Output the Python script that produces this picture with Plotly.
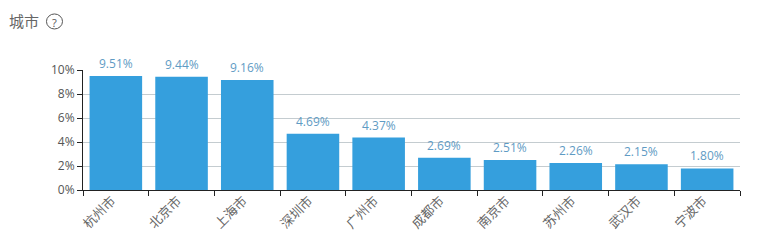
import plotly.graph_objects as go

cities = ["杭州市", "北京市", "上海市", "深圳市", "广州市", "成都市", "南京市", "苏州市", "武汉市", "宁波市"]
shares = [9.51, 9.44, 9.16, 4.69, 4.37, 2.69, 2.51, 2.26, 2.15, 1.80]
y_ticks = [0, 2, 4, 6, 8, 10]
y_tick_labels = ["0%", "2%", "4%", "6%", "8%", "10%"]
title_text = "城市"

FONT = "Noto Sans CJK SC, Noto Sans, sans-serif"

fig = go.Figure(go.Bar(
    x=cities, y=shares,
    marker=dict(color="#359fdd", line=dict(width=0)),
    width=0.8,
))
annotations = [
    dict(text=f"{v:.2f}%", x=c, y=v, xref="x", yref="y", showarrow=False,
         xanchor="center", yanchor="bottom", yshift=2,
         font=dict(size=12, color="#5f9bc4", family="Open Sans, sans-serif"))
    for c, v in zip(cities, shares)
]
annotations += [
    dict(text=title_text, xref="paper", yref="paper", x=-0.1104, y=1.4,
         xshift=-3, yshift=2,
         xanchor="left", yanchor="middle", showarrow=False,
         font=dict(size=15, color="#666666", family=FONT)),
    dict(text="?", xref="paper", yref="paper", x=-0.0434, y=1.4,
         xanchor="center", yanchor="middle", showarrow=False,
         font=dict(size=11, color="#555555", family="Open Sans, sans-serif")),
]
fig.update_layout(
    width=761, height=242,
    autosize=False,
    margin=dict(l=75, r=29, t=62, b=60),
    paper_bgcolor="white", plot_bgcolor="white",
    showlegend=False,
    font=dict(family=FONT, color="#555555", size=12),
    annotations=annotations,
    shapes=[
        dict(type="circle", xref="paper", yref="paper",
             x0=-0.0556, x1=-0.0312, y0=1.342, y1=1.467,
             line=dict(color="#555555", width=1)),
    ],
)
fig.update_xaxes(
    type="category", tickson="boundaries", ticks="outside", ticklen=5,
    tickcolor="#222222", showline=True, linecolor="#222222", linewidth=1,
    showgrid=False, tickangle=-45, tickfont=dict(size=13, color="#666666"),
    ticklabelshift=-4, ticklabelstandoff=-3,
)
fig.update_yaxes(
    range=[0, 10], tickvals=y_ticks, ticktext=y_tick_labels, ticks="outside", ticklen=5,
    tickcolor="#222222", showline=True, linecolor="#222222", linewidth=1,
    showgrid=True, gridcolor="#c4ccd0", gridwidth=1, zeroline=False,
    tickfont=dict(size=12, color="#555555", family="Open Sans, sans-serif"),
)
fig.write_html("out.html")
